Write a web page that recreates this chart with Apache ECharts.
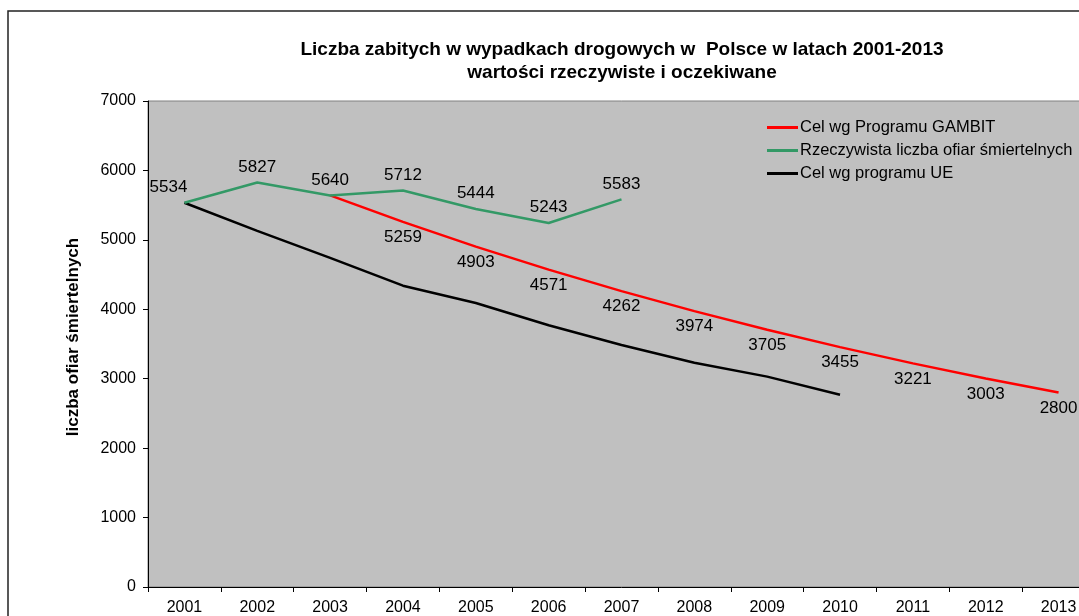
<!DOCTYPE html>
<html>
<head>
<meta charset="utf-8">
<script src="https://cdn.jsdelivr.net/npm/echarts@6/dist/echarts.min.js"></script>
<style>html,body{margin:0;padding:0;background:#fff;overflow:hidden;width:1079px;height:616px}#c{width:1095px;height:616px}</style>
</head>
<body>
<div id="c"></div>
<script>
var years = ['2001','2002','2003','2004','2005','2006','2007','2008','2009','2010','2011','2012','2013'];
var gambit = [null, null, 5640, 5259, 4903, 4571, 4262, 3974, 3705, 3455, 3221, 3003, 2800];
var actual = [5534, 5827, 5640, 5712, 5444, 5243, 5583, null, null, null, null, null, null];
var ue = [5534, 5130, 4740, 4340, 4090, 3770, 3485, 3230, 3030, 2770, null, null, null];
var seriesNames = ['Cel wg Programu GAMBIT', 'Rzeczywista liczba ofiar śmiertelnych', 'Cel wg programu UE'];

var FONT = 'Liberation Sans, Arial, sans-serif';
var chart = echarts.init(document.getElementById('c'));

var gambitData = gambit.map(function (v, i) {
  if (i === 2) return { value: v, label: { show: false } };
  return v;
});
var actualData = actual.map(function (v, i) {
  if (i === 0) return { value: v, label: { offset: [-16, 0] } };
  return v;
});

chart.setOption({
  backgroundColor: '#ffffff',
  animation: false,
  textStyle: { fontFamily: FONT },
  title: {
    text: 'Liczba zabitych w wypadkach drogowych w  Polsce w latach 2001-2013\nwartości rzeczywiste i oczekiwane',
    left: 617, top: 33, textAlign: 'center',
    textStyle: { fontFamily: FONT, fontSize: 19, fontWeight: 'bold', color: '#000', lineHeight: 23 }
  },
  graphic: [{
    type: 'rect', z: 100,
    shape: { x: 8, y: 11, width: 1100, height: 700 },
    style: { fill: null, stroke: '#222', lineWidth: 1.5 }
  }],
  legend: {
    orient: 'vertical', left: 762, top: 114, itemGap: 6,
    itemWidth: 31, itemHeight: 3, icon: 'rect',
    data: seriesNames,
    textStyle: { fontFamily: FONT, fontSize: 16.5, color: '#000', padding: [0, 0, 0, -3] }
  },
  grid: {
    left: 148, right: 0, top: 101, bottom: 29,
    show: true, backgroundColor: '#C0C0C0', borderColor: '#808080', borderWidth: 1
  },
  xAxis: {
    type: 'category', data: years, boundaryGap: true,
    axisLine: { lineStyle: { color: '#000', width: 1 } },
    axisTick: { show: true, inside: false, length: 5, lineStyle: { color: '#000' } },
    axisLabel: { color: '#000', fontSize: 16, margin: 13, fontFamily: FONT },
    splitLine: { show: false }
  },
  yAxis: {
    type: 'value', min: 0, max: 7000, interval: 1000,
    name: 'liczba ofiar śmiertelnych', nameLocation: 'middle', nameGap: 66, nameRotate: 90,
    nameTextStyle: { color: '#000', fontSize: 17, fontWeight: 'bold', fontFamily: FONT, padding: [0, 0, 0, 14] },
    axisLine: { show: true, lineStyle: { color: '#000', width: 1 } },
    axisTick: { show: true, inside: false, length: 5, lineStyle: { color: '#000' } },
    axisLabel: { color: '#000', fontSize: 16, margin: 12, fontFamily: FONT,
      formatter: function (v) { return String(v); } },
    splitLine: { show: false }
  },
  series: [
    {
      name: seriesNames[0], type: 'line', data: gambitData, symbol: 'circle', symbolSize: 0.01, showSymbol: true, z: 3,
      lineStyle: { color: '#FF0000', width: 2.5 }, itemStyle: { color: '#FF0000' },
      label: { show: true, position: 'bottom', distance: 7, color: '#000', fontSize: 17, fontFamily: FONT }
    },
    {
      name: seriesNames[1], type: 'line', data: actualData, symbol: 'circle', symbolSize: 0.01, showSymbol: true, z: 4,
      lineStyle: { color: '#339966', width: 2.5 }, itemStyle: { color: '#339966' },
      label: { show: true, position: 'top', distance: 7, color: '#000', fontSize: 17, fontFamily: FONT }
    },
    {
      name: seriesNames[2], type: 'line', data: ue, symbol: 'none', z: 2,
      lineStyle: { color: '#000000', width: 2.5 }, itemStyle: { color: '#000000' },
      label: { show: false }
    }
  ]
});
</script>
</body>
</html>
